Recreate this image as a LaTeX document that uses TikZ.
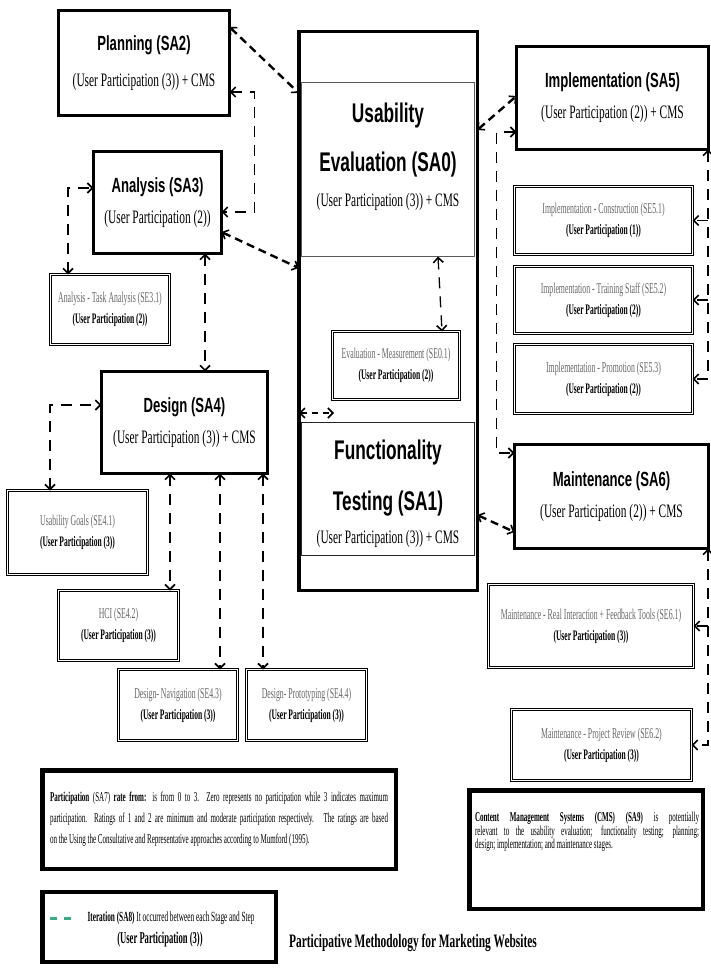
\documentclass[tikz,border=0pt]{standalone}
\usepackage{fontspec}
\setmainfont{Liberation Serif}[FakeStretch=0.6]
\newfontfamily\cserif{Liberation Serif}[FakeStretch=0.52]
\newfontfamily\nsans{Liberation Sans}[FakeStretch=0.64]
\usetikzlibrary{arrows.meta}
\definecolor{itergreen}{RGB}{60,170,130}
\newcommand{\stagettl}{\nsans\bfseries\fontsize{20.5}{24}\selectfont}
\newcommand{\bigttl}{\nsans\bfseries\fontsize{27}{30}\selectfont}
\newcommand{\stepttl}{\color{black!60}\cserif\fontsize{15}{17}\selectfont}
\newcommand{\stepsub}{\cserif\bfseries\fontsize{14.5}{17}\selectfont}

\begin{document}
\begin{tikzpicture}[x=1pt, y=-1pt,
  >={Straight Barb[length=5pt,width=10pt,line width=1.6pt]},
  stage/.style={draw, line width=3pt, outer sep=0pt, fill=white, align=center,
    font=\fontsize{19}{31}\selectfont,
    path picture={
      \fill (path picture bounding box.north west) rectangle ([yshift=-5pt]path picture bounding box.north east);
      \fill ([yshift=7pt]path picture bounding box.south west) rectangle (path picture bounding box.south east);}},
  substep/.style={draw, double, double distance=1.2pt, line width=0.9pt, outer sep=0pt,
    align=center, font=\fontsize{14}{21}\selectfont},
  note/.style={draw, line width=4.5pt, outer sep=0pt},
  inner/.style={draw=black!65, line width=1.2pt, outer sep=0pt, minimum width=173pt},
  iter/.style={<->, line width=2.4pt, dash pattern=on 8pt off 5pt},
  iterlong/.style={<->, line width=1.3pt, dash pattern=on 11pt off 8pt}]

\fill[white] (0,0) rectangle (711,968);
\useasboundingbox (0,0) rectangle (711,968);

\node[stage, minimum width=171pt, minimum height=105pt] (plan) at (144,63)
  {{\stagettl Planning (SA2)}\\[5pt](User Participation (3)) + CMS};
\node[stage, minimum width=128pt, minimum height=102pt] (anal) at (157.5,202.5)
  {{\stagettl Analysis (SA3)}\\(User Participation (2))};
\node[stage, minimum width=166pt, minimum height=102pt] (des) at (184.5,422.5)
  {{\stagettl Design (SA4)}\\(User Participation (3)) + CMS};
\node[stage, minimum width=192pt, minimum height=103pt] (impl) at (612.5,98)
  {{\stagettl Implementation (SA5)}\\(User Participation (2)) + CMS};
\node[stage, minimum width=194pt, minimum height=104pt] (maint) at (611.5,496.5)
  {{\stagettl Maintenance (SA6)}\\(User Participation (2)) + CMS};

\node[stage, line width=3.5pt, minimum width=178.5pt, minimum height=558.5pt] (uf) at (388,311) {};
\node[inner, minimum height=174pt] (usab) at (388,169.5) {};
\node[inner, draw=black!85, minimum height=133pt] (func) at (388,489) {};
\node[align=center, font=\fontsize{19}{30}\selectfont] (usabtxt) at (388,157)
  {{\bigttl Usability}\\[19pt]{\bigttl Evaluation (SA0)}\\[5pt](User Participation (3)) + CMS};
\node[align=center, font=\fontsize{19}{30}\selectfont] (functxt) at (388,494)
  {{\bigttl Functionality}\\[21pt]{\bigttl Testing (SA1)}\\[3pt](User Participation (3)) + CMS};

\node[substep, minimum width=119pt, minimum height=70pt] (task) at (110,309.5)
  {{\stepttl Analysis - Task Analysis (SE3.1)}\\{\stepsub (User Participation (2))}};
\node[substep, minimum width=140pt, minimum height=84pt] (goals) at (77.5,532.5)
  {{\stepttl Usability Goals (SE4.1)}\\{\stepsub (User Participation (3))}};
\node[substep, minimum width=120pt, minimum height=70pt] (hci) at (118.5,625.5)
  {{\stepttl HCI (SE4.2)}\\{\stepsub (User Participation (3))}};
\node[substep, minimum width=119pt, minimum height=71pt] (nav) at (178,705)
  {{\stepttl Design- Navigation (SE4.3)}\\{\stepsub (User Participation (3))}};
\node[substep, minimum width=120pt, minimum height=71pt] (proto) at (306.5,705)
  {{\stepttl Design- Prototyping (SE4.4)}\\{\stepsub (User Participation (3))}};
\node[substep, minimum width=127pt, minimum height=68pt] (meas) at (396,365.5)
  {{\stepttl Evaluation - Measurement (SE0.1)}\\{\stepsub (User Participation (2))}};
\node[substep, minimum width=178pt, minimum height=68pt] (se51) at (603.5,220.5)
  {{\stepttl Implementation - Construction (SE5.1)}\\{\stepsub (User Participation (1))}};
\node[substep, minimum width=178pt, minimum height=67pt] (se52) at (603.5,300)
  {{\stepttl Implementation - Training Staff (SE5.2)}\\{\stepsub (User Participation (2))}};
\node[substep, minimum width=178pt, minimum height=69pt] (se53) at (603.5,379)
  {{\stepttl Implementation - Promotion (SE5.3)}\\{\stepsub (User Participation (2))}};
\node[substep, minimum width=205pt, minimum height=83pt] (se61) at (591,626)
  {{\stepttl Maintenance - Real Interaction + Feedback Tools (SE6.1)}\\{\stepsub (User Participation (3))}};
\node[substep, minimum width=180pt, minimum height=71pt] (se62) at (601.5,745)
  {{\stepttl Maintenance - Project Review (SE6.2)}\\{\stepsub (User Participation (3))}};

\node[note, text width=338pt, inner xsep=7.75pt, minimum height=98.5pt, align=justify,
  font=\cserif\fontsize{13.5}{21}\selectfont] (part) at (219,819.5)
  {\textbf{Participation} (SA7) \textbf{rate from:} is from 0 to 3.\ \ Zero represents no participation while 3 indicates maximum\linebreak
   participation. Ratings of 1 and 2 are minimum and moderate participation respectively.\ \ \ The ratings are based\linebreak
   on the Using the Consultative and Representative approaches according to Mumford (1995).};

\node[note, minimum width=233.5pt, minimum height=118.5pt] (cms) at (586,849.5) {};
\node[text width=224pt, align=justify, anchor=north, font=\cserif\fontsize{13.5}{13.5}\selectfont] (cmstxt) at (587,809)
  {\textbf{Content Management Systems (CMS) (SA9)} is potentially\linebreak
   relevant to the usability evaluation; functionality testing; planning;\linebreak
   design; implementation; and maintenance stages.};

\node[note, minimum width=233.5pt, minimum height=70pt] (iter) at (159,927) {};
\node[align=center, font=\cserif\fontsize{14}{22}\selectfont] (itertxt) at (171,929)
  {\textbf{Iteration (SA8)} It occurred between each Stage and Step\\\hspace*{-22pt}{\bfseries\fontsize{16.5}{18}\selectfont (User Participation (3))}};
\draw[itergreen, line width=3pt, dash pattern=on 7pt off 7pt] ([xshift=8pt]iter.west |- 0,918) -- ++(22,0);

\node[font=\bfseries\fontsize{19}{21}\selectfont] (caption) at (413,943) {Participative Methodology for Marketing Websites};

\draw[iter] (plan.east |- 0,27) -- (uf.west |- 0,93);
\draw[iterlong] (plan.east |- 0,92) -- ++(25,0) |- (anal.east |- 0,212);
\draw[iter] (anal.east |- 0,232) -- (uf.west |- 0,268);
\draw[iterlong] (task.north -| 68,0) |- (anal.west |- 0,188);
\draw[iterlong] (anal.south -| 205,0) -- (des.north -| 205,0);
\draw[iterlong] (goals.north -| 50,0) |- (des.west |- 0,405);
\draw[iterlong] (des.south -| 170,0) -- (hci.north -| 170,0);
\draw[iterlong] (des.south -| 220,0) -- (nav.north -| 220,0);
\draw[iterlong] (des.south -| 263,0) -- (proto.north -| 263,0);
\draw[iterlong] (usab.south -| 438,0) -- (meas.north -| 442,0);
\coordinate (fend) at (334,413);
\draw[iterlong, dash pattern=on 6pt off 5pt] (uf.west |- 0,413) -- (fend);
\draw[iter] (uf.east |- 0,130) -- (impl.west |- 0,96);
\draw[iterlong] (impl.west |- 0,132) -- ++(-20,0) |- (maint.west |- 0,453);
\draw[iter] (uf.east |- 0,515) -- (maint.west |- 0,532);
\draw[iterlong] (impl.south -| 708,0) |- (se53.east);
\draw[iterlong, ->] (se51.east -| 708,0) -- (se51.east);
\draw[iterlong, ->] (se52.east -| 708,0) -- (se52.east);
\draw[iterlong] (maint.south -| 708,0) |- (se62.east);
\draw[iterlong, ->] (se61.east -| 708,0) -- (se61.east);
\end{tikzpicture}
\end{document}
